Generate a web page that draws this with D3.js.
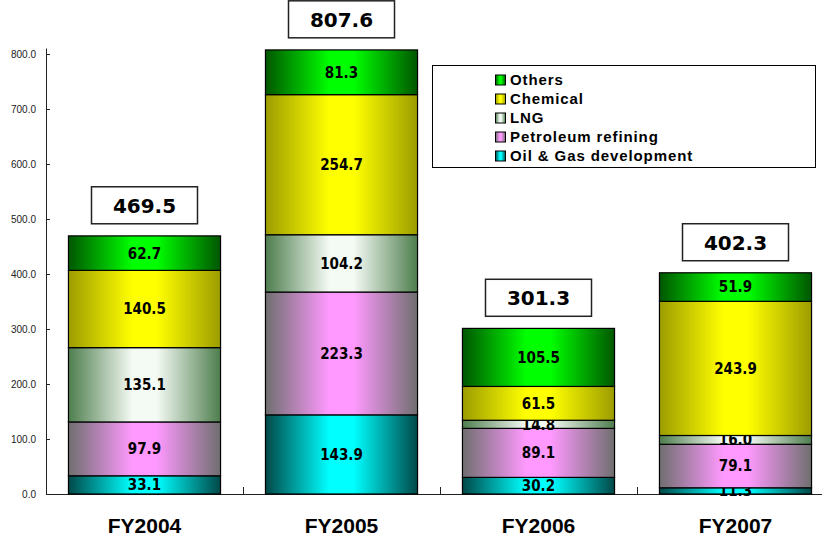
<!DOCTYPE html>
<html>
<head>
<meta charset="utf-8">
<script src="https://cdn.jsdelivr.net/npm/d3@7"></script>
<style>
  body { margin: 0; background: #fff; }
  svg { display: block; }
</style>
</head>
<body>
<svg class="chart-svg" width="822" height="542"></svg>
<script>
// values, stacked bottom to top
const categories = ['FY2004', 'FY2005', 'FY2006', 'FY2007']
const seriesKeys = ['oilGas', 'petroleum', 'lng', 'chemical', 'others']
const seriesLabels = ['Oil & Gas development', 'Petroleum refining', 'LNG', 'Chemical', 'Others']
const oilGas = [33.1, 143.9, 30.2, 11.3]
const petroleum = [97.9, 223.3, 89.1, 79.1]
const lng = [135.1, 104.2, 14.8, 16.0]
const chemical = [140.5, 254.7, 61.5, 243.9]
const others = [62.7, 81.3, 105.5, 51.9]
const totals = [469.5, 807.6, 301.3, 402.3]
const yTicks = [0, 100, 200, 300, 400, 500, 600, 700, 800]

const edgeColors = ['#004848', '#6f6f6f', '#4e7e4e', '#9c9c00', '#005600']
const centerColors = ['#00ffff', '#ff99ff', '#f4faf4', '#ffff00', '#00ff00']

const seriesValues = { oilGas, petroleum, lng, chemical, others }
const rows = categories.map(function (c, i) {
  const row = { category: c }
  seriesKeys.forEach(function (k) { row[k] = seriesValues[k][i] })
  return row
})

const svg = d3.select('.chart-svg')

const x = d3.scaleBand()
  .domain(categories)
  .range([46, 834])
  .paddingInner(0.228)
  .paddingOuter(0.114)

const y = d3.scaleLinear()
  .domain([0, 810])
  .range([494, 48.5])

// cylinder-like shading for each series
const defs = svg.append('defs')
seriesKeys.forEach(function (k, i) {
  const grad = defs.append('linearGradient')
    .attr('id', 'grad-' + k)
    .attr('x1', '0').attr('x2', '1').attr('y1', '0').attr('y2', '0')
  grad.append('stop').attr('offset', '0').attr('stop-color', edgeColors[i])
  grad.append('stop').attr('offset', '0.42').attr('stop-color', centerColors[i])
  grad.append('stop').attr('offset', '0.58').attr('stop-color', centerColors[i])
  grad.append('stop').attr('offset', '1').attr('stop-color', edgeColors[i])
})

// y axis
const yAxis = svg.append('g')
  .attr('class', 'y-axis')
  .attr('transform', 'translate(46, 0)')
  .call(d3.axisLeft(y).tickValues(yTicks).tickSize(-4).tickPadding(10).tickFormat(d3.format('.1f')))
yAxis.select('.domain').attr('d', 'M0.5,' + y(0) + 'V' + y.range()[1]).attr('stroke', '#222')
yAxis.selectAll('.tick line').attr('stroke', '#222')
yAxis.selectAll('text')
  .style('font-family', '"Liberation Sans", Arial, sans-serif')
  .style('font-size', '10px')
  .attr('fill', '#222')

// x axis with ticks between categories
const xAxis = svg.append('g')
  .attr('class', 'x-axis')
  .attr('transform', 'translate(0,' + y(0) + ')')
  .call(d3.axisBottom(x).tickSize(0).tickPadding(0))
xAxis.select('.domain').attr('d', 'M46,0.5H822').attr('stroke', '#222')
xAxis.selectAll('text')
  .attr('y', 39)
  .attr('dy', null)
  .style('font-family', '"Liberation Sans", Arial, sans-serif')
  .style('font-size', '21px')
  .style('font-weight', 'bold')
  .attr('fill', '#000')

const boundaries = categories.map(function (c) { return x(c) - x.step() * x.paddingInner() / 2 })
xAxis.selectAll('.sep')
  .data(boundaries.slice(1))
  .enter()
  .append('line')
  .attr('class', 'sep')
  .attr('x1', function (d) { return Math.round(d) + 0.5 })
  .attr('x2', function (d) { return Math.round(d) + 0.5 })
  .attr('y1', 0)
  .attr('y2', -7)
  .attr('stroke', '#222')

// stacked bars
const stacked = d3.stack().keys(seriesKeys)(rows)

const layers = svg.append('g')
  .attr('class', 'bars')
  .selectAll('g')
  .data(stacked)
  .enter()
  .append('g')
  .attr('fill', function (d) { return 'url(#grad-' + d.key + ')' })

layers.selectAll('rect')
  .data(function (d) { return d })
  .enter()
  .append('rect')
  .attr('x', function (d) { return x(d.data.category) })
  .attr('y', function (d) { return y(d[1]) })
  .attr('width', x.bandwidth())
  .attr('height', function (d) { return y(d[0]) - y(d[1]) })
  .attr('stroke', '#000')
  .attr('stroke-width', 1.2)

layers.selectAll('text')
  .data(function (d) { return d })
  .enter()
  .append('text')
  .attr('x', function (d) { return x(d.data.category) + x.bandwidth() / 2 })
  .attr('y', function (d) { return (y(d[0]) + y(d[1])) / 2 })
  .attr('dy', '.36em')
  .attr('text-anchor', 'middle')
  .attr('fill', '#000')
  .style('font-family', '"Liberation Sans Narrow", "DejaVu Sans Condensed", "Liberation Sans", sans-serif')
  .style('font-size', '15px')
  .style('font-weight', 'bold')
  .text(function (d) { return d3.format('.1f')(d[1] - d[0]) })

// total boxes above bars
const totalGroup = svg.append('g')
  .attr('class', 'totals')
  .selectAll('g')
  .data(totals)
  .enter()
  .append('g')
  .attr('transform', function (d, i) {
    return 'translate(' + (x(categories[i]) + x.bandwidth() / 2) + ',' + (y(d) - 12) + ')'
  })

totalGroup.append('rect')
  .attr('x', -53)
  .attr('y', -37)
  .attr('width', 106)
  .attr('height', 37)
  .attr('fill', '#fff')
  .attr('stroke', '#222')
  .attr('stroke-width', 1.5)

totalGroup.append('text')
  .attr('x', 0)
  .attr('y', -11)
  .attr('text-anchor', 'middle')
  .style('font-family', '"DejaVu Sans", sans-serif')
  .style('font-size', '20px')
  .style('font-weight', 'bold')
  .attr('fill', '#000')
  .text(function (d) { return d3.format('.1f')(d) })

// legend
const legendData = seriesKeys.map(function (k, i) {
  return { key: k, label: seriesLabels[i] }
}).reverse()

const legendBox = svg.append('g').attr('class', 'legend-container')
legendBox.append('rect')
  .attr('x', 432.5)
  .attr('y', 65.5)
  .attr('width', 383)
  .attr('height', 102)
  .attr('fill', '#fff')
  .attr('stroke', '#000')

const legend = legendBox.selectAll('.legend')
  .data(legendData)
  .enter()
  .append('g')
  .attr('class', 'legend')
  .attr('transform', function (d, i) {
    return 'translate(495,' + (79.5 + i * 19) + ')'
  })

legend.append('rect')
  .attr('x', 0.5)
  .attr('y', -4.5)
  .attr('width', 10)
  .attr('height', 10)
  .attr('fill', function (d) { return 'url(#grad-' + d.key + ')' })
  .attr('stroke', '#000')

legend.append('text')
  .attr('x', 15)
  .attr('y', 0)
  .attr('dy', '.38em')
  .style('font-family', '"Liberation Sans", Arial, sans-serif')
  .style('font-size', '15px')
  .style('font-weight', 'bold')
  .style('letter-spacing', '0.9px')
  .attr('fill', '#000')
  .text(function (d) { return d.label })
</script>
</body>
</html>
